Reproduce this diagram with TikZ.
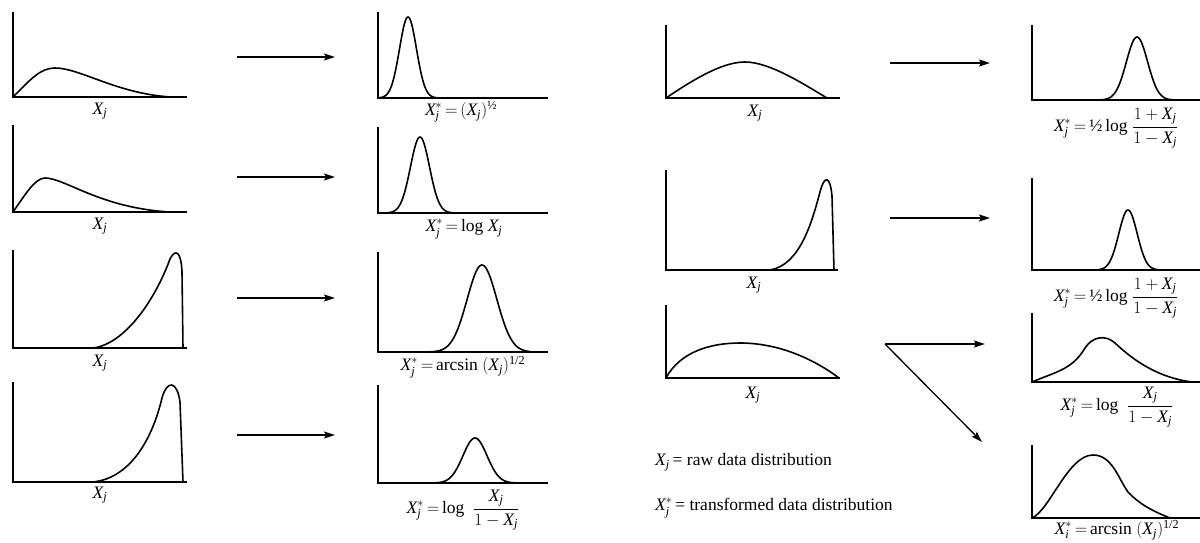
\documentclass[tikz,border=0pt]{standalone}
\usepackage{amsmath}
\usepackage{fontspec}
\setmainfont{Liberation Serif}
\usetikzlibrary{arrows.meta}
\newcommand\myX{\text{\itshape X}}
\newcommand\myj{\text{\itshape j}}
\newcommand\myi{\text{\itshape i}}
\newcommand\Xj{\ensuremath{\myX_{\myj}}}
\newcommand\Xs{\ensuremath{\myX_{\myj}^{*}}}
\newcommand\Xis{\ensuremath{\myX_{\myi}^{*}}}
\newcommand\myeq{\,{=}\,}
\tikzset{
  axis/.style={line width=1.6pt},
  curve/.style={line width=1.6pt, line join=round},
  lab/.style={font=\fontsize{17.5}{20}\selectfont, inner sep=0pt},
  arr/.style={line width=1.3pt, -{Stealth[length=11pt,width=7pt,inset=2pt]}},
}
\begin{document}
\begin{tikzpicture}[x=1pt,y=-1pt]
\useasboundingbox (0,0) rectangle (1200,543);
% ---------- left raw panels
\draw[axis] (13,12) -- (13,97) -- (187,97);
\draw[curve] (13,97) .. controls (30,80) and (40,68) .. (55,68) .. controls (80,68) and (115,93) .. (170,97);
\node[lab] (l1) at (100,111) {\Xj};
\draw[axis] (13,125) -- (13,212) -- (187,212);
\draw[curve] (13,212) .. controls (25,195) and (35,178) .. (45,178) .. controls (65,178) and (100,208) .. (170,212);
\node[lab] (l2) at (100,226) {\Xj};
\draw[axis] (13,250) -- (13,348) -- (187,348);
\draw[curve] (93,348) .. controls (125,344) and (155,300) .. (170,259) .. controls (175,249) and (181,250) .. (182,272) -- (183,348);
\node[lab] (l3) at (100,363) {\Xj};
\draw[axis] (13,382) -- (13,482) -- (187,482);
\draw[curve] (93,482) .. controls (130,478) and (152,440) .. (162,398) .. controls (167,380) and (177,380) .. (180,402) -- (183,482);
\node[lab] (l4) at (100,495) {\Xj};
% ---------- left transformed panels
\draw[axis] (378,12) -- (378,98) -- (548,98);
\draw[curve] plot[domain=378:440, samples=80, smooth] (\x, {98-81*exp(-((\x-408)/12)^2)});
\node[lab] (t1) at (461,112) {$\Xs\myeq(\Xj)^{\text{½}}$};
\draw[axis] (378,127) -- (378,213) -- (548,213);
\draw[curve] plot[domain=378:455, samples=80, smooth] (\x, {213-76*exp(-((\x-420)/13.5)^2)});
\node[lab] (t2) at (464,229) {$\Xs\myeq\text{log}\ \Xj$};
\draw[axis] (378,252) -- (378,352) -- (548,352);
\draw[curve] plot[domain=420:530, samples=90, smooth] (\x, {352-87*exp(-((\x-482)/21)^2)});
\node[lab] (t3) at (463,367) {$\Xs\myeq\text{arcsin}\ (\Xj)^{\text{1/2}}$};
\draw[axis] (378,385) -- (378,483) -- (548,483);
\draw[curve] plot[domain=435:525, samples=80, smooth] (\x, {483-45*exp(-((\x-475)/17)^2)});
\node[lab] (t4) at (463,510) {$\Xs\myeq\text{log}\ \ \dfrac{\Xj}{1-\Xj}$};
% ---------- left arrows
\coordinate (a1s) at (237,57);  \coordinate (a1e) at (335,57);
\coordinate (a2s) at (237,177); \coordinate (a2e) at (335,177);
\coordinate (a3s) at (237,298); \coordinate (a3e) at (335,298);
\coordinate (a4s) at (237,435); \coordinate (a4e) at (335,435);
\draw[arr] (a1s) -- (a1e);
\draw[arr] (a2s) -- (a2e);
\draw[arr] (a3s) -- (a3e);
\draw[arr] (a4s) -- (a4e);
% ---------- right raw panels
\draw[axis] (666,25) -- (666,98) -- (840,98);
\draw[curve] (666,98) .. controls (700,75) and (725,62) .. (745,62) .. controls (770,62) and (805,85) .. (827,98);
\node[lab] (r1) at (755,113) {\Xj};
\draw[axis] (666,170) -- (666,270) -- (838,270);
\draw[curve] (770,270) .. controls (800,265) and (812,222) .. (820,192) .. controls (824,176) and (830,174) .. (832,196) -- (834,270);
\node[lab] (r2) at (754,285) {\Xj};
\draw[axis] (666,305) -- (666,378) -- (840,378);
\draw[curve] (666,378) .. controls (680,352) and (710,343) .. (740,343) .. controls (780,343) and (815,360) .. (839,378);
\node[lab] (r3) at (753,395) {\Xj};
% ---------- right arrows
\coordinate (b1s) at (890,63);  \coordinate (b1e) at (990,63);
\coordinate (b2s) at (890,218); \coordinate (b2e) at (990,218);
\coordinate (b3s) at (885,344); \coordinate (b3e) at (985,344);
\coordinate (b4e) at (982,442);
\draw[arr] (b1s) -- (b1e);
\draw[arr] (b2s) -- (b2e);
\draw[arr] (b3s) -- (b3e);
\draw[arr] (b3s) -- (b4e);
% ---------- right transformed panels
\draw[axis] (1032,25) -- (1032,100) -- (1200,100);
\draw[curve] plot[domain=1090:1178, samples=80, smooth] (\x, {100-63*exp(-((\x-1137)/15)^2)});
\node[lab] (u1) at (1116,128) {$\Xs\myeq\text{½\,log}\ \dfrac{1+\Xj}{1-\Xj}$};
\draw[axis] (1032,178) -- (1032,270) -- (1200,270);
\draw[curve] plot[domain=1090:1168, samples=80, smooth] (\x, {270-60*exp(-((\x-1128)/13)^2)});
\node[lab] (u2) at (1116,298) {$\Xs\myeq\text{½\,log}\ \dfrac{1+\Xj}{1-\Xj}$};
\draw[axis] (1032,313) -- (1032,382) -- (1200,382);
\draw[curve] (1032,382) .. controls (1055,372) and (1072,370) .. (1085,348) .. controls (1092,337) and (1105,334) .. (1115,343) .. controls (1135,362) and (1160,378) .. (1192,382);
\node[lab] (u3) at (1117,407) {$\Xs\myeq\text{log}\ \ \dfrac{\Xj}{1-\Xj}$};
\draw[axis] (1032,445) -- (1032,518) -- (1200,518);
\draw[curve] (1032,518) .. controls (1050,510) and (1068,455) .. (1093,455) .. controls (1112,455) and (1118,478) .. (1128,492) .. controls (1140,505) and (1155,512) .. (1170,518);
\node[lab] (u4) at (1117,530) {$\Xis\myeq\text{arcsin}\ (\Xj)^{\text{1/2}}$};
% ---------- legend
\node[lab, anchor=west] (g1) at (655,462) {\Xj\,= raw data distribution};
\node[lab, anchor=west] (g2) at (655,508) {\Xs\,= transformed data distribution};
\end{tikzpicture}
\end{document}
